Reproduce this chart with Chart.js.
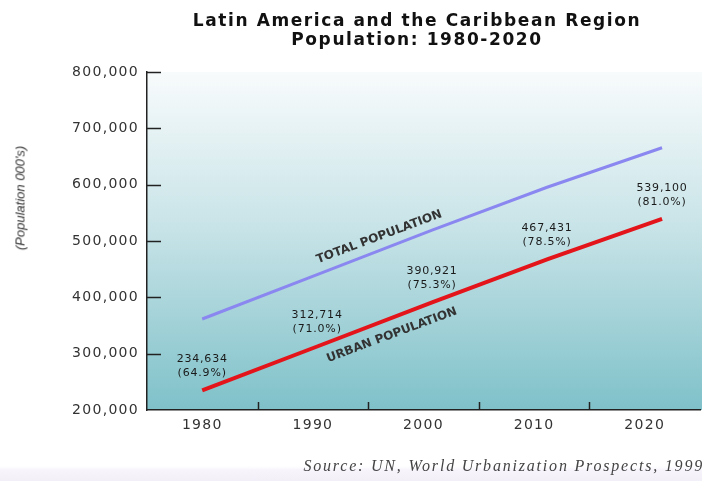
<!DOCTYPE html>
<html>
<head>
<meta charset="utf-8">
<script src="https://cdn.jsdelivr.net/npm/chart.js@4/dist/chart.umd.min.js"></script>
<style>
  html, body { margin: 0; padding: 0; }
  body {
    width: 702px; height: 481px; position: relative; overflow: hidden;
    background: linear-gradient(to bottom, #ffffff 0px, #ffffff 466px, #f7f4fb 470px, #f3eff8 481px);
  }
  #c { position: absolute; left: 0; top: 0; }
  .title {
    position: absolute; left: 417px; top: 11px; transform: translateX(-50%);
    text-align: center; white-space: nowrap;
    font: bold 17px "DejaVu Sans", sans-serif; letter-spacing: 1.6px; line-height: 19px; color: #111;
  }
  .ylab {
    position: absolute; left: 20px; top: 198px; transform: translate(-50%, -50%) rotate(-90deg);
    white-space: nowrap; font: italic 13px "Liberation Sans", sans-serif; color: #333;
  }
  .source {
    position: absolute; right: -2px; top: 457px; white-space: nowrap;
    font: italic 16px "Liberation Serif", serif; letter-spacing: 1.8px; color: #444;
  }
</style>
</head>
<body>
<canvas id="c" width="702" height="481"></canvas>
<div class="title">Latin America and the Caribbean Region<br>Population: 1980-2020</div>
<div class="ylab">(Population 000's)</div>
<div class="source">Source: UN, World Urbanization Prospects, 1999</div>
<script>
// ---- data ----
const YEARS = [1980, 1990, 2000, 2010, 2020];
const YEAR_LABELS = ['1980', '1990', '2000', '2010', '2020'];
const TOTAL_POP = [361500, 440400, 519200, 595400, 665600];
const URBAN_POP = [234634, 312714, 390921, 467431, 539100];
const URBAN_PCT = ['64.9%', '71.0%', '75.3%', '78.5%', '81.0%'];
const Y_TICKS = [200000, 300000, 400000, 500000, 600000, 700000, 800000];
const SERIES_NAMES = ['TOTAL POPULATION', 'URBAN POPULATION'];
// anchors (data units) for the series name labels
const NAME_ANCHOR_YEAR = [1995.4, 1996.5];
const NAME_ANCHOR_VALUE = [507000, 333000];

const fmt = v => v.toLocaleString('en-US');

const bgPlugin = {
  id: 'bg',
  beforeDraw(chart) {
    const { ctx, chartArea: a } = chart;
    try { ctx.letterSpacing = '1.3px'; } catch (e) {}
    const g = ctx.createLinearGradient(0, a.top, 0, a.bottom);
    g.addColorStop(0, '#f8fbfc');
    g.addColorStop(0.45, '#c9e4e8');
    g.addColorStop(1, '#7fc1c9');
    ctx.save();
    ctx.fillStyle = g;
    ctx.fillRect(a.left, a.top, chart.width - a.left, a.bottom - a.top);
    ctx.restore();
  },
  afterDraw(chart) {
    try { chart.ctx.letterSpacing = '0px'; } catch (e) {}
  }
};

const marksPlugin = {
  id: 'marks',
  afterDatasetsDraw(chart) {
    const { ctx, chartArea: a } = chart;
    const ys = chart.scales.y, xs = chart.scales.x;
    ctx.save();
    ctx.strokeStyle = '#222';
    ctx.lineWidth = 1.5;
    // inward y ticks
    ys.ticks.forEach(t => {
      if (t.value === ys.min) return;
      const py = Math.round(ys.getPixelForValue(t.value)) + 0.5;
      ctx.beginPath(); ctx.moveTo(a.left, py); ctx.lineTo(a.left + 14, py); ctx.stroke();
    });
    // inward x ticks between categories
    for (let i = 0; i < YEAR_LABELS.length - 1; i++) {
      const px = Math.round((xs.getPixelForTick(i) + xs.getPixelForTick(i + 1)) / 2) + 0.5;
      ctx.beginPath(); ctx.moveTo(px, a.bottom); ctx.lineTo(px, a.bottom - 8); ctx.stroke();
    }
    // value labels above urban line
    const meta = chart.getDatasetMeta(1);
    ctx.fillStyle = '#1a1a1a';
    ctx.textAlign = 'center';
    ctx.textBaseline = 'middle';
    ctx.font = '11px "DejaVu Sans"';
    try { ctx.letterSpacing = '0.8px'; } catch (e) {}
    meta.data.forEach((pt, i) => {
      ctx.fillText(fmt(URBAN_POP[i]), pt.x, pt.y - 31);
      ctx.fillText('(' + URBAN_PCT[i] + ')', pt.x, pt.y - 17);
    });
    try { ctx.letterSpacing = '0px'; } catch (e) {}
    // series names along lines
    const xl = chart.scales.xl;
    ctx.font = 'bold 12px "DejaVu Sans"';
    ctx.fillStyle = '#333';
    [0, 1].forEach(d => {
      const m = chart.getDatasetMeta(d).data;
      const p0 = m[0], p1 = m[m.length - 1];
      const ang = Math.atan2(p1.y - p0.y, p1.x - p0.x);
      const cx = xl.getPixelForValue(NAME_ANCHOR_YEAR[d]);
      const cy = ys.getPixelForValue(NAME_ANCHOR_VALUE[d]);
      ctx.save();
      ctx.translate(cx, cy);
      ctx.rotate(ang);
      ctx.fillText(SERIES_NAMES[d], 0, 0);
      ctx.restore();
    });
    ctx.restore();
  }
};

new Chart(document.getElementById('c'), {
  type: 'line',
  data: {
    labels: YEAR_LABELS,
    datasets: [
      {
        label: 'Total population',
        data: YEARS.map((y, i) => ({ x: y, y: TOTAL_POP[i] })),
        xAxisID: 'xl', yAxisID: 'y',
        borderColor: '#8a87f0', borderWidth: 3, pointRadius: 0, tension: 0, fill: false
      },
      {
        label: 'Urban population',
        data: YEARS.map((y, i) => ({ x: y, y: URBAN_POP[i] })),
        xAxisID: 'xl', yAxisID: 'y',
        borderColor: '#e3151b', borderWidth: 4, pointRadius: 0, tension: 0, fill: false
      }
    ]
  },
  options: {
    responsive: false,
    animation: false,
    devicePixelRatio: 1,
    layout: { padding: { top: 72, right: 2, bottom: 0, left: 0 } },
    plugins: { legend: { display: false }, tooltip: { enabled: false }, title: { display: false } },
    scales: {
      x: {
        type: 'category',
        labels: YEAR_LABELS,
        position: 'bottom',
        offset: true,
        grid: { display: false, drawTicks: false, offset: true },
        border: { display: true, color: '#222', width: 1.5 },
        ticks: { font: { family: 'DejaVu Sans', size: 14 }, color: '#333', padding: 7, maxRotation: 0 },
        afterFit(s) { s.height = 71; }
      },
      xl: {
        type: 'linear',
        display: false,
        min: 1975.2,
        max: 2023.3
      },
      y: {
        type: 'linear',
        position: 'left',
        min: 200000,
        max: 800000,
        afterBuildTicks(s) { s.ticks = Y_TICKS.map(v => ({ value: v })); },
        grid: { display: false, drawTicks: false },
        border: { display: true, color: '#222', width: 1.5 },
        ticks: {
          font: { family: 'DejaVu Sans', size: 14 }, color: '#333', padding: 8,
          callback: v => fmt(v)
        },
        afterFit(s) { s.width = 147; }
      }
    }
  },
  plugins: [bgPlugin, marksPlugin]
});
</script>
</body>
</html>
